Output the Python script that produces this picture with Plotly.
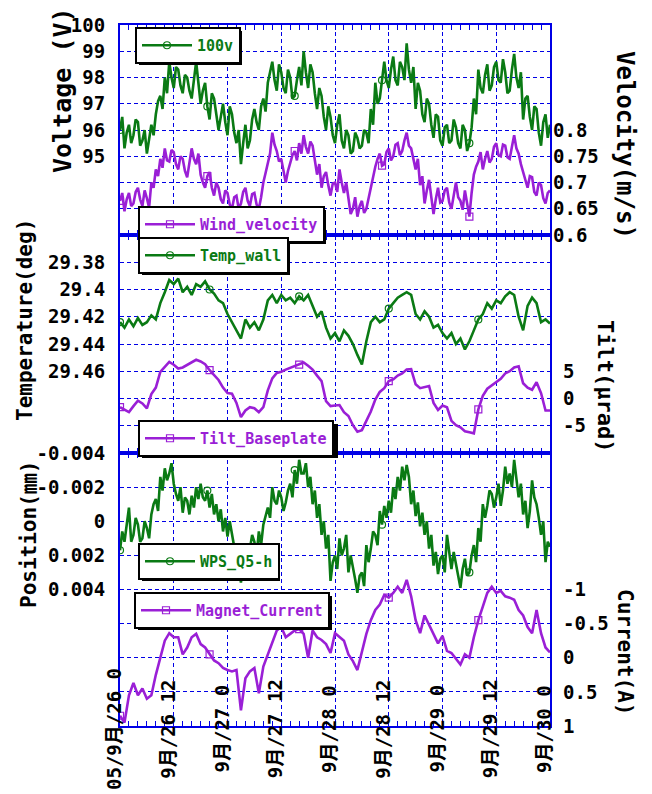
import pandas as pd
import plotly.graph_objects as go

# ---------------- data ----------------
times_hourly = pd.date_range("2005-09-26 00:00", periods=97, freq="h")
times_half = pd.date_range("2005-09-26 00:00", periods=193, freq="30min")

voltage = [96.0, 96.5, 95.3, 95.9, 96.2, 95.5, 95.8, 96.4, 96.3, 95.4,
           95.6, 96.0, 95.1, 95.7, 96.2, 95.8, 96.6, 97.1, 97.3, 96.8,
           98.0, 97.4, 98.6, 98.0, 97.6, 98.4, 98.3, 97.7, 97.4, 98.1,
           98.0, 97.5, 97.2, 97.9, 98.6, 97.8, 97.0, 97.5, 97.8, 96.9,
           96.4, 97.4, 97.2, 96.6, 96.0, 96.5, 97.0, 96.3, 95.8, 96.9,
           96.6, 95.9, 95.5, 96.0, 94.7, 95.5, 96.2, 95.3, 95.6, 96.4,
           96.8, 96.3, 96.0, 96.9, 97.2, 96.7, 97.8, 98.2, 98.6, 97.9,
           97.5, 98.5, 98.2, 97.6, 97.4, 98.3, 98.0, 97.2, 97.3, 97.9,
           98.4, 97.7, 99.0, 98.2, 97.6, 98.5, 98.2, 97.4, 96.8, 97.6,
           97.3, 96.5, 96.0, 96.9, 96.5, 95.8, 95.5, 96.2, 96.6, 95.6,
           95.3, 96.0, 95.8, 95.1, 95.2, 95.9, 95.7, 95.3, 95.4, 96.0,
           95.9, 95.5, 96.8, 96.2, 97.8, 97.0, 97.2, 97.9, 98.6, 97.9,
           97.6, 98.3, 98.8, 97.9, 97.7, 98.6, 98.4, 97.9, 99.3, 98.3,
           97.8, 98.4, 96.8, 97.8, 97.5, 96.6, 96.3, 97.2, 97.0, 96.2,
           95.7, 96.6, 96.5, 95.6, 95.4, 96.1, 96.2, 95.5, 95.6, 96.4,
           96.1, 95.5, 95.3, 96.2, 96.0, 95.2, 95.5, 96.1, 97.2, 96.6,
           98.3, 97.6, 97.4, 98.1, 98.5, 97.5, 97.7, 98.4, 98.6, 97.9,
           97.8, 98.7, 98.2, 97.4, 97.5, 98.3, 98.9, 98.0, 97.6, 98.2,
           96.4, 97.2, 97.3, 96.5, 96.0, 96.9, 96.8, 95.9, 95.4, 96.3,
           96.6, 95.7, 96.2]

wind_velocity = [0.665, 0.680, 0.645, 0.668, 0.680, 0.655, 0.660, 0.682, 0.690, 0.668,
                 0.655, 0.685, 0.670, 0.652, 0.700, 0.690, 0.725, 0.712, 0.745, 0.728,
                 0.765, 0.742, 0.740, 0.762, 0.758, 0.735, 0.725, 0.750, 0.745, 0.722,
                 0.710, 0.738, 0.765, 0.745, 0.735, 0.755, 0.715, 0.700, 0.690, 0.712,
                 0.720, 0.690, 0.675, 0.700, 0.690, 0.668, 0.660, 0.685, 0.680, 0.658,
                 0.650, 0.672, 0.675, 0.650, 0.660, 0.682, 0.690, 0.665, 0.655, 0.678,
                 0.680, 0.658, 0.650, 0.672, 0.700, 0.718, 0.735, 0.755, 0.795, 0.772,
                 0.760, 0.740, 0.745, 0.725, 0.700, 0.722, 0.735, 0.752, 0.760, 0.742,
                 0.775, 0.755, 0.790, 0.768, 0.755, 0.778, 0.770, 0.742, 0.715, 0.735,
                 0.690, 0.712, 0.720, 0.695, 0.675, 0.698, 0.700, 0.682, 0.725, 0.700,
                 0.680, 0.700, 0.665, 0.640, 0.650, 0.672, 0.635, 0.655, 0.665, 0.642,
                 0.650, 0.670, 0.690, 0.712, 0.730, 0.745, 0.755, 0.732, 0.735, 0.758,
                 0.765, 0.742, 0.750, 0.772, 0.775, 0.752, 0.760, 0.780, 0.795, 0.770,
                 0.765, 0.745, 0.725, 0.745, 0.695, 0.712, 0.660, 0.685, 0.705, 0.672,
                 0.640, 0.668, 0.690, 0.662, 0.665, 0.685, 0.690, 0.662, 0.650, 0.675,
                 0.700, 0.672, 0.665, 0.648, 0.685, 0.660, 0.635, 0.680, 0.715, 0.730,
                 0.740, 0.758, 0.725, 0.745, 0.760, 0.738, 0.745, 0.768, 0.775, 0.752,
                 0.750, 0.772, 0.770, 0.748, 0.745, 0.768, 0.790, 0.765, 0.755, 0.735,
                 0.720, 0.700, 0.690, 0.712, 0.710, 0.682, 0.675, 0.700, 0.695, 0.670,
                 0.660, 0.680, 0.685]

temp_wall = [29.424, 29.428, 29.422, 29.427, 29.421, 29.426, 29.424, 29.419, 29.422, 29.410,
             29.402, 29.393, 29.396, 29.392, 29.402, 29.398, 29.404, 29.396, 29.398, 29.394,
             29.400, 29.403, 29.408, 29.410, 29.418, 29.424, 29.430, 29.436, 29.422, 29.428,
             29.424, 29.430, 29.422, 29.408, 29.404, 29.410, 29.404, 29.408, 29.406, 29.410,
             29.405, 29.408, 29.404, 29.412, 29.420, 29.416, 29.428, 29.436, 29.432, 29.438,
             29.430, 29.434, 29.440, 29.448, 29.455, 29.438, 29.424, 29.420, 29.424, 29.422,
             29.414, 29.410, 29.406, 29.404, 29.402, 29.404, 29.418, 29.422, 29.416, 29.420,
             29.428, 29.426, 29.432, 29.436, 29.432, 29.440, 29.436, 29.444, 29.438, 29.430,
             29.422, 29.418, 29.410, 29.414, 29.408, 29.410, 29.405, 29.402, 29.404, 29.420,
             29.430, 29.412, 29.406, 29.410, 29.424, 29.422, 29.425]

tilt_baseplate = [-1.6, -2.0, -2.5, -1.4, -0.4, -0.9, -1.8, 0.8, 2.0, 4.9,
                  5.8, 6.7, 6.2, 5.5, 5.7, 6.2, 6.7, 7.1, 6.8, 6.3,
                  5.2, 4.2, 3.4, 2.0, 1.0, 0.9, -0.8, -3.4, -2.2, -1.6,
                  -1.8, -2.5, -1.6, 1.5, 3.7, 4.7, 4.9, 5.3, 5.6, 5.9,
                  6.2, 6.6, 6.0, 5.3, 4.2, 3.2, -0.5, -1.4, -1.3, -1.2,
                  -2.5, -3.2, -4.9, -6.1, -5.8, -4.0, -2.4, -0.2, 1.2, 1.9,
                  3.2, 3.5, 4.2, 4.6, 5.3, 5.4, 2.6, 1.9, 2.1, 2.3,
                  -0.8, -2.1, -1.3, -1.6, -4.1, -4.9, -5.3, -6.0, -6.2, -6.4,
                  -2.0, 0.5, 1.8, 2.4, 3.0, 3.6, 4.6, 5.0, 5.7, 5.9,
                  2.8, 2.0, 1.6, 3.0, 1.0, -2.2, -2.2]

wps_q5h = [0.0017, 0.0006, 0.0012, 0.0002, -0.0008, 0.0012, 0.0008, -0.0002, 0.0002, 0.0012,
           0.0010, 0.0000, 0.0004, 0.0010, -0.0004, -0.0010, -0.0013, -0.0006, -0.0026, -0.0018,
           -0.0031, -0.0024, -0.0028, -0.0034, -0.0022, -0.0016, -0.0012, -0.0020, -0.0005, -0.0014,
           -0.0012, -0.0004, -0.0015, -0.0008, -0.0020, -0.0013, -0.0022, -0.0014, -0.0012, -0.0018,
           -0.0008, -0.0016, -0.0004, -0.0010, 0.0000, -0.0007, 0.0006, -0.0002, 0.0009, 0.0000,
           0.0007, 0.0015, 0.0018, 0.0025, 0.0036, 0.0026, 0.0022, 0.0030, 0.0016, 0.0008,
           0.0012, 0.0020, 0.0006, 0.0014, 0.0002, -0.0004, -0.0008, -0.0002, -0.0020, -0.0012,
           -0.0010, -0.0018, -0.0014, -0.0006, -0.0011, -0.0018, -0.0022, -0.0014, -0.0030, -0.0022,
           -0.0036, -0.0028, -0.0028, -0.0034, -0.0020, -0.0026, -0.0010, -0.0018, -0.0002, -0.0010,
           0.0008, 0.0000, 0.0016, 0.0008, 0.0035, 0.0024, 0.0020, 0.0028, 0.0010, 0.0020,
           0.0016, 0.0008, 0.0030, 0.0020, 0.0026, 0.0034, 0.0042, 0.0032, 0.0030, 0.0038,
           0.0014, 0.0024, 0.0016, 0.0006, 0.0008, 0.0014, -0.0006, 0.0002, -0.0009, -0.0002,
           -0.0012, -0.0005, -0.0020, -0.0013, -0.0026, -0.0018, -0.0032, -0.0024, -0.0033, -0.0026,
           -0.0010, -0.0018, -0.0003, -0.0011, 0.0003, -0.0005, 0.0008, 0.0000, 0.0016, 0.0008,
           0.0026, 0.0018, 0.0031, 0.0022, 0.0020, 0.0030, 0.0008, 0.0018, 0.0028, 0.0018,
           0.0024, 0.0032, 0.0039, 0.0028, 0.0022, 0.0032, 0.0030, 0.0020, 0.0014, 0.0024,
           0.0004, 0.0012, -0.0010, -0.0002, -0.0009, -0.0018, -0.0016, -0.0008, -0.0014, -0.0022,
           -0.0009, -0.0018, -0.0032, -0.0022, -0.0028, -0.0020, -0.0036, -0.0026, -0.0014, -0.0022,
           -0.0004, -0.0012, 0.0004, -0.0006, -0.0024, -0.0014, -0.0010, -0.0002, 0.0008, 0.0000,
           0.0024, 0.0012, 0.0015]

magnet_current = [0.85, 0.95, 0.55, 0.37, 0.55, 0.45, 0.60, 0.55, 0.25, 0.00,
                  -0.25, -0.36, -0.30, -0.30, -0.05, -0.15, -0.30, -0.35, -0.20, -0.15,
                  -0.05, 0.04, 0.08, 0.15, 0.18, 0.20, 0.18, 0.77, 0.30, 0.20,
                  0.15, 0.52, 0.13, -0.05, -0.21, -0.40, -0.45, -0.30, -0.35, -0.40,
                  -0.42, -0.35, 0.00, -0.40, -0.30, -0.26, -0.20, -0.07, -0.36, -0.30,
                  -0.25, -0.05, 0.05, 0.18, -0.08, -0.35, -0.55, -0.70, -0.78, -0.92,
                  -0.88, -0.95, -1.04, -0.95, -1.14, -0.90, -0.55, -0.36, -0.62, -0.48,
                  -0.35, -0.21, -0.32, -0.10, -0.07, 0.02, 0.10, -0.05, 0.00, -0.30,
                  -0.55, -0.75, -0.95, -1.04, -0.95, -0.98, -0.90, -0.88, -0.85, -0.70,
                  -0.62, -0.45, -0.36, -0.70, -0.36, -0.15, -0.08]

x_tick_times = pd.date_range("2005-09-26 00:00", periods=9, freq="12h")
x_tick_labels = ["05/9月/26 0", "9月/26 12", "9月/27 0", "9月/27 12", "9月/28 0",
                 "9月/28 12", "9月/29 0", "9月/29 12", "9月/30 0"]

volt_ticks = [92, 93, 94, 95, 96, 97, 98, 99, 100]
volt_labels = ["", "", "", "95", "96", "97", "98", "99", "100"]
vel_ticks = [0.6, 0.65, 0.7, 0.75, 0.8]
vel_labels = ["0.6", "0.65", "0.7", "0.75", "0.8"]
temp_ticks = [29.36, 29.38, 29.40, 29.42, 29.44, 29.46, 29.48, 29.50, 29.52]
temp_labels = ["", "29.38", "29.4", "29.42", "29.44", "29.46", "", "", ""]
tilt_ticks = [-5, 0, 5]
tilt_labels = ["-5", "0", "5"]
pos_ticks = [-0.004, -0.002, 0.0, 0.002, 0.004, 0.006, 0.008, 0.010, 0.012]
pos_labels = ["-0.004", "-0.002", "0", "0.002", "0.004", "", "", "", ""]
cur_ticks = [-1, -0.5, 0, 0.5, 1]
cur_labels = ["-1", "-0.5", "0", "0.5", "1"]

# ---------------- style ----------------
W, H = 652, 794
L, R, T, B = 120, 102, 25, 68
PW, PH = W - L - R, H - T - B
GREEN = "#0a7a14"
PURPLE = "#9a1fd6"
BLUE = "#0000e6"
MONO = "DejaVu Sans Mono, Noto Sans CJK JP, monospace"


def px_x(px):
    return (px - L) / PW


def px_y(py):
    return (H - B - py) / PH


dom_bot = [0, px_y(453)]
dom_mid = [px_y(453), px_y(235)]
dom_top = [px_y(235), 1]

fig = go.Figure()


def add(x, y, name, color, symbol, xa, ya, leg):
    fig.add_trace(go.Scatter(
        x=x, y=y, name=name, mode="lines+markers", xaxis=xa, yaxis=ya, legend=leg,
        line=dict(color=color, width=2.6),
        marker=dict(symbol=symbol, size=7, color=color, maxdisplayed=5, line=dict(width=1.2)),
    ))


add(times_half, voltage, "100v", GREEN, "circle-open", "x3", "y5", "legend")
add(times_half, wind_velocity, "Wind_velocity", PURPLE, "square-open", "x3", "y6", "legend2")
add(times_hourly, temp_wall, "Temp_wall", GREEN, "circle-open", "x2", "y3", "legend3")
add(times_hourly, tilt_baseplate, "Tilt_Baseplate", PURPLE, "square-open", "x2", "y4", "legend4")
add(times_half, wps_q5h, "WPS_Q5-h", GREEN, "circle-open", "x", "y", "legend5")
add(times_hourly, magnet_current, "Magnet_Current", PURPLE, "square-open", "x", "y2", "legend6")

xcommon = dict(
    range=[x_tick_times[0], x_tick_times[-1]], tickvals=list(x_tick_times), showticklabels=False,
    showgrid=True, gridcolor=BLUE, gridwidth=1, griddash="4px,3px",
    showline=True, linecolor=BLUE, linewidth=2, mirror="allticks",
    ticks="inside", ticklen=5, tickcolor=BLUE, tickwidth=1,
    minor=dict(dtick=2 * 3600 * 1000, ticks="inside", ticklen=5, tickcolor=BLUE, showgrid=False),
    domain=[0, 1],
)
tickfont = dict(family=MONO, size=19, color="black", weight="bold")
ycommon_left = dict(
    showgrid=True, gridcolor=BLUE, gridwidth=1, griddash="4px,3px", zeroline=False,
    showline=True, linecolor=BLUE, linewidth=2, mirror=True, ticks="",
    tickfont=tickfont, ticklabelstandoff=9, tickmode="array",
)
ycommon_right = dict(
    showgrid=False, zeroline=False, showline=False, ticks="", side="right",
    tickfont=tickfont, tickmode="array",
)

fig.update_layout(
    xaxis=dict(anchor="y", **xcommon),
    xaxis2=dict(anchor="y3", matches="x", **xcommon),
    xaxis3=dict(anchor="y5", matches="x", **xcommon),
    yaxis=dict(domain=dom_bot, anchor="x", range=[0.012, -0.004], tickvals=pos_ticks, ticktext=pos_labels, **ycommon_left),
    yaxis2=dict(overlaying="y", anchor="x", range=[1, -3], tickvals=cur_ticks, ticktext=cur_labels, ticklabelstandoff=12, **ycommon_right),
    yaxis3=dict(domain=dom_mid, anchor="x2", range=[29.52, 29.36], tickvals=temp_ticks, ticktext=temp_labels, **ycommon_left),
    yaxis4=dict(overlaying="y3", anchor="x2", range=[-10, 30], tickvals=tilt_ticks, ticktext=tilt_labels, ticklabelstandoff=12, **ycommon_right),
    yaxis5=dict(domain=dom_top, anchor="x3", range=[92, 100], tickvals=volt_ticks, ticktext=volt_labels, **ycommon_left),
    yaxis6=dict(overlaying="y5", anchor="x3", range=[0.6, 1.0], tickvals=vel_ticks, ticktext=vel_labels, ticklabelstandoff=2, **ycommon_right),
)

# legends (id, left px, top px, right px, text colour)
legend_boxes = [
    ("legend", 135, 27, 238, GREEN),
    ("legend2", 138, 206, 322, PURPLE),
    ("legend3", 138, 237, 286, GREEN),
    ("legend4", 138, 420, 334, PURPLE),
    ("legend5", 138, 543, 276, GREEN),
    ("legend6", 134, 592, 328, PURPLE),
]
LEG_H = 34
shapes = []
for lid, lx, ly, rx, col in legend_boxes:
    fig.update_layout(**{lid: dict(
        x=px_x(lx), y=px_y(ly), xanchor="left", yanchor="top",
        bgcolor="white", bordercolor="black", borderwidth=2, itemwidth=50,
        font=dict(family=MONO, size=15, color=col, weight="bold"),
    )})
    shapes.append(dict(type="rect", xref="paper", yref="paper", layer="above",
                       x0=px_x(lx + 4), x1=px_x(rx + 4), y0=px_y(ly + LEG_H + 4), y1=px_y(ly + 4),
                       fillcolor="black", line=dict(width=0)))

annotations = []
for t, lab in zip(x_tick_times, x_tick_labels):
    annotations.append(dict(x=t, y=0, xref="x", yref="paper", text=lab, showarrow=False,
                            textangle=-90, xanchor="center", yanchor="middle", xshift=-6, yshift=-3,
                            font=dict(family=MONO, size=19, color="black", weight="bold")))

titles = [  # text, centre px x, centre px y, angle, size
    ("Voltage (V)", 63, 90, -90, 25),
    ("Velocity(m/s)", 625, 145, 90, 24),
    ("Temperature(deg)", 25, 320, -90, 21),
    ("Tilt(μrad)", 606, 386, 90, 22),
    ("Position(㎜)", 29, 535, -90, 21),
    ("Current(A)", 625, 652, 90, 21),
]
for txt, cx, cy, ang, sz in titles:
    annotations.append(dict(x=px_x(cx), y=px_y(cy), xref="paper", yref="paper", text=txt,
                            showarrow=False, textangle=ang, xanchor="center", yanchor="middle",
                            font=dict(family=MONO, size=sz, color="black", weight="bold")))

fig.update_layout(
    width=W, height=H, margin=dict(l=L, r=R, t=T, b=B, autoexpand=False),
    paper_bgcolor="white", plot_bgcolor="white",
    shapes=shapes, annotations=annotations, showlegend=True,
)

fig.write_html("out.html", config={"displayModeBar": False},
               post_script="document.body.style.margin='0px';")
